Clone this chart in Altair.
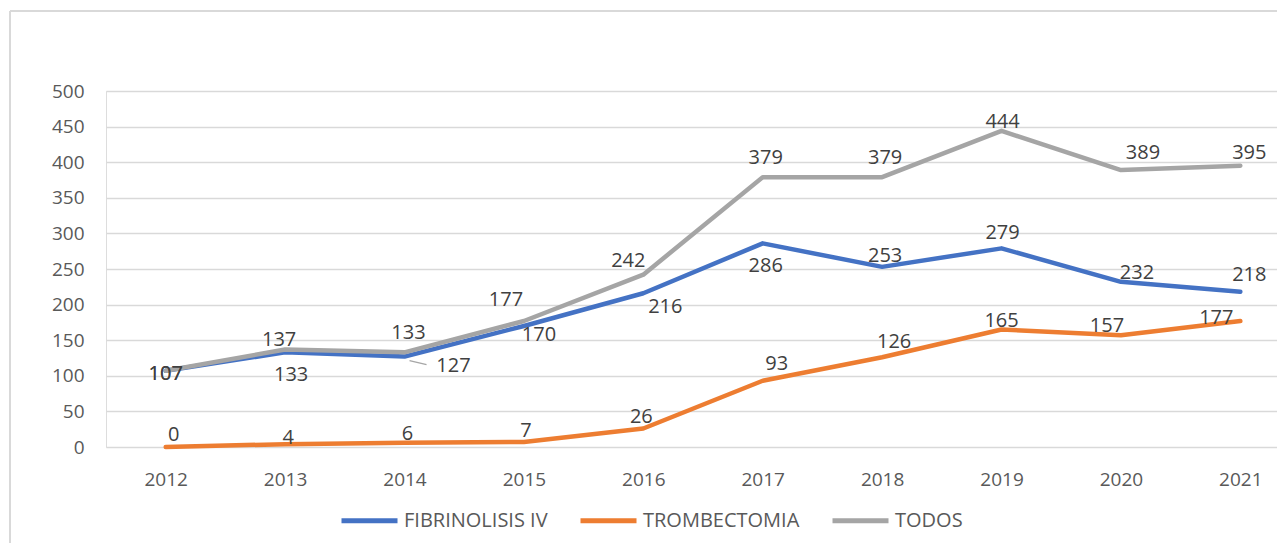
import altair as alt
import pandas as pd

years = [2012, 2013, 2014, 2015, 2016, 2017, 2018, 2019, 2020, 2021]
series_names = ["FIBRINOLISIS IV", "TROMBECTOMIA", "TODOS"]
fibrinolisis = [107, 133, 127, 170, 216, 286, 253, 279, 232, 218]
trombectomia = [0, 4, 6, 7, 26, 93, 126, 165, 157, 177]
todos = [107, 137, 133, 177, 242, 379, 379, 444, 389, 395]
colors = ["#4472C4", "#ED7D31", "#A5A5A5"]
y_ticks = [0, 50, 100, 150, 200, 250, 300, 350, 400, 450, 500]

# label placement (pixel offsets from each point), styling only
label_dx = {
    "FIBRINOLISIS IV": [0, 6, 49, 15, 22, 3, 3, 1, 16, 9],
    "TROMBECTOMIA": [8, 3, 3, 2, -2, 14, 12, 0, -14, -24],
    "TODOS": [0, -6, 4, -18, -15, 3, 3, 1, 22, 9],
}
label_dy = {
    "FIBRINOLISIS IV": [3, 23, 9, 9, 14, 23, -11, -15, -9, -17],
    "TROMBECTOMIA": [-12, -6, -9, -11, -11, -17, -15, -9, -9, -3],
    "TODOS": [3, -9, -19, -21, -14, -19, -19, -9, -17, -13],
}

rows = []
for name, vals in zip(series_names, [fibrinolisis, trombectomia, todos]):
    for i, (yr, v) in enumerate(zip(years, vals)):
        rows.append({"year": yr, "value": v, "serie": name,
                     "dx": label_dx[name][i], "dy": label_dy[name][i]})
df = pd.DataFrame(rows)

FONT = "Open Sans"
W, H = 1171, 356

x_scale = alt.Scale(domain=[2011.5, 2021.307], nice=False, zero=False)
y_scale = alt.Scale(domain=[0, 500], nice=False)
x_axis = alt.Axis(values=years, format="d", title=None, grid=False,
                  domain=False, ticks=False, labelFont=FONT,
                  labelFontSize=19, labelColor="#595959",
                  labelPadding=23, labelFlush=False, labelOverlap=False)
y_axis = alt.Axis(values=y_ticks, tickCount=11, title=None, domain=False, ticks=False,
                  labelFont=FONT, labelFontSize=19, labelColor="#595959",
                  labelPadding=22, gridColor="#d9d9d9", gridWidth=1.4,
                  labelOverlap=False, labelFlush=False)


def xe(field="year:Q"):
    return alt.X(field, scale=x_scale, axis=x_axis)


def ye(field="value:Q"):
    return alt.Y(field, scale=y_scale, axis=y_axis)


color_enc = alt.Color("serie:N",
                      scale=alt.Scale(domain=series_names, range=colors),
                      sort=series_names,
                      legend=alt.Legend(title=None, orient="none", direction="horizontal",
                                        legendX=233, legendY=399,
                                        symbolType="stroke", symbolSize=3136,
                                        symbolStrokeWidth=5, labelFont=FONT,
                                        labelFontSize=20, labelColor="#595959",
                                        labelOffset=4, columnPadding=22))

base = alt.Chart(df)

lines = base.mark_line(strokeWidth=4.5, strokeJoin="round", strokeCap="round").encode(
    x=xe(), y=ye(), color=color_enc, order=alt.Order("year:Q")
)

labels = base.mark_text(font=FONT, fontSize=20, color="#404040", baseline="middle",
                        align="center",
                        dx=alt.ExprRef("datum.dx"), dy=alt.ExprRef("datum.dy")).encode(
    x=xe(), y=ye(), text="value:Q"
)

leader_df = df[(df["serie"] == "FIBRINOLISIS IV") & (df["year"] == 2014)]
leader = alt.Chart(leader_df).mark_rule(color="#A6A6A6", strokeWidth=1.3,
                                        xOffset=5, x2Offset=22, yOffset=4, y2Offset=8).encode(
    x=xe(), x2="year:Q", y=ye(), y2="value:Q"
)

frame_left = alt.Chart(df.head(1)).mark_rule(color="#d9d9d9", strokeWidth=2).encode(
    x=alt.value(-96), y=alt.value(-80), y2=alt.value(H + 100)
)
frame_top = alt.Chart(df.head(1)).mark_rule(color="#d9d9d9", strokeWidth=2).encode(
    x=alt.value(-96), x2=alt.value(W + 10), y=alt.value(-80)
)

chart = alt.layer(lines, labels, leader, frame_left, frame_top).properties(
    width=W, height=H,
    autosize=alt.AutoSizeParams(type="none"),
    padding={"left": 98, "top": 83, "right": 0, "bottom": 96},
).configure_view(stroke=None).configure(background="white")

chart.save("out.html", embed_options={"renderer": "svg", "actions": False})
